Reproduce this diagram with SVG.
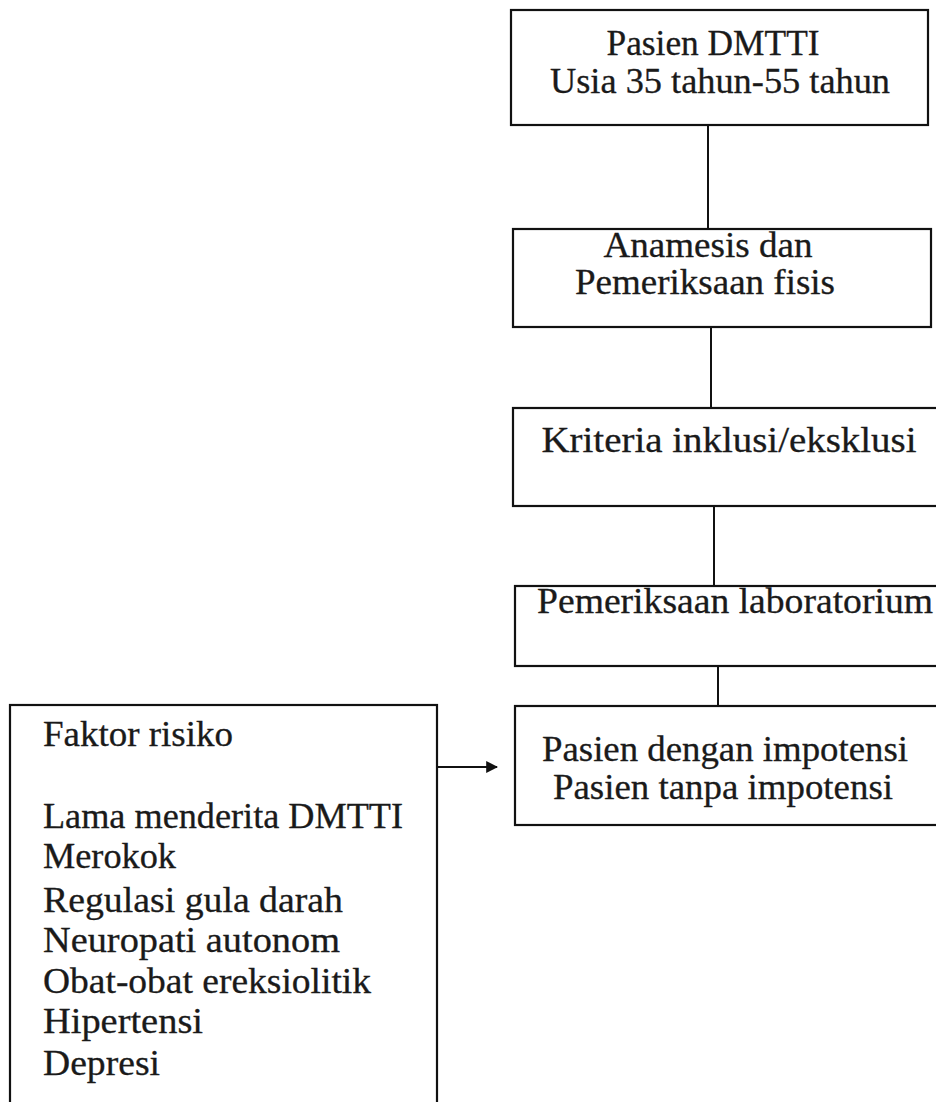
<svg xmlns="http://www.w3.org/2000/svg" width="936" height="1102" viewBox="0 0 936 1102">
<style>
.box{fill:none;stroke:#111;stroke-width:2.2}
.t{font-family:"Liberation Serif","Times New Roman",serif;font-size:35px;fill:#1a1a1a;stroke:#1a1a1a;stroke-width:0.3}
.c{text-anchor:middle}
.ln{stroke:#111;stroke-width:2;fill:none}
</style>
<defs>
<marker id="ah" viewBox="0 0 10 10" refX="9" refY="5" markerWidth="6" markerHeight="6" orient="auto" markerUnits="strokeWidth">
<path d="M0,0 L10,5 L0,10 Z" fill="#111"/>
</marker>
</defs>
<rect width="936" height="1102" fill="#fff"/>
<g id="connectors">
<line class="ln" x1="708" y1="125" x2="708" y2="229"/>
<line class="ln" x1="711" y1="327" x2="711" y2="408"/>
<line class="ln" x1="714" y1="506" x2="714" y2="586"/>
<line class="ln" x1="718" y1="666" x2="718" y2="706"/>
<line class="ln" x1="436" y1="767" x2="497" y2="767" marker-end="url(#ah)"/>
</g>
<g id="n1">
<rect class="box" x="511" y="10" width="417" height="115"/>
<text class="t c" x="713" y="55" textLength="213" lengthAdjust="spacingAndGlyphs">Pasien DMTTI</text>
<text class="t c" x="720" y="93" textLength="340" lengthAdjust="spacingAndGlyphs">Usia 35 tahun-55 tahun</text>
</g>
<g id="n2">
<rect class="box" x="513" y="229" width="418" height="98"/>
<text class="t c" x="708" y="257" textLength="209" lengthAdjust="spacingAndGlyphs">Anamesis dan</text>
<text class="t c" x="705" y="294" textLength="260" lengthAdjust="spacingAndGlyphs">Pemeriksaan fisis</text>
</g>
<g id="n3">
<rect class="box" x="513" y="408" width="440" height="98"/>
<text class="t c" x="729" y="452" textLength="375" lengthAdjust="spacingAndGlyphs">Kriteria inklusi/eksklusi</text>
</g>
<g id="n4">
<rect class="box" x="515" y="586" width="440" height="80"/>
<text class="t c" x="735" y="613" textLength="396" lengthAdjust="spacingAndGlyphs">Pemeriksaan laboratorium</text>
</g>
<g id="n5">
<rect class="box" x="515" y="706" width="440" height="119"/>
<text class="t c" x="725" y="761" textLength="366" lengthAdjust="spacingAndGlyphs">Pasien dengan impotensi</text>
<text class="t c" x="723" y="799" textLength="340" lengthAdjust="spacingAndGlyphs">Pasien tanpa impotensi</text>
</g>
<g id="n6">
<rect class="box" x="10" y="705" width="427" height="420"/>
<text class="t" x="43" y="746" textLength="190" lengthAdjust="spacingAndGlyphs">Faktor risiko</text>
<text class="t" x="43" y="828" textLength="360" lengthAdjust="spacingAndGlyphs">Lama menderita DMTTI</text>
<text class="t" x="43" y="868" textLength="133" lengthAdjust="spacingAndGlyphs">Merokok</text>
<text class="t" x="43" y="912" textLength="300" lengthAdjust="spacingAndGlyphs">Regulasi gula darah</text>
<text class="t" x="43" y="952" textLength="297" lengthAdjust="spacingAndGlyphs">Neuropati autonom</text>
<text class="t" x="43" y="993" textLength="328" lengthAdjust="spacingAndGlyphs">Obat-obat ereksiolitik</text>
<text class="t" x="43" y="1033" textLength="160" lengthAdjust="spacingAndGlyphs">Hipertensi</text>
<text class="t" x="43" y="1075" textLength="117" lengthAdjust="spacingAndGlyphs">Depresi</text>
</g>
</svg>
